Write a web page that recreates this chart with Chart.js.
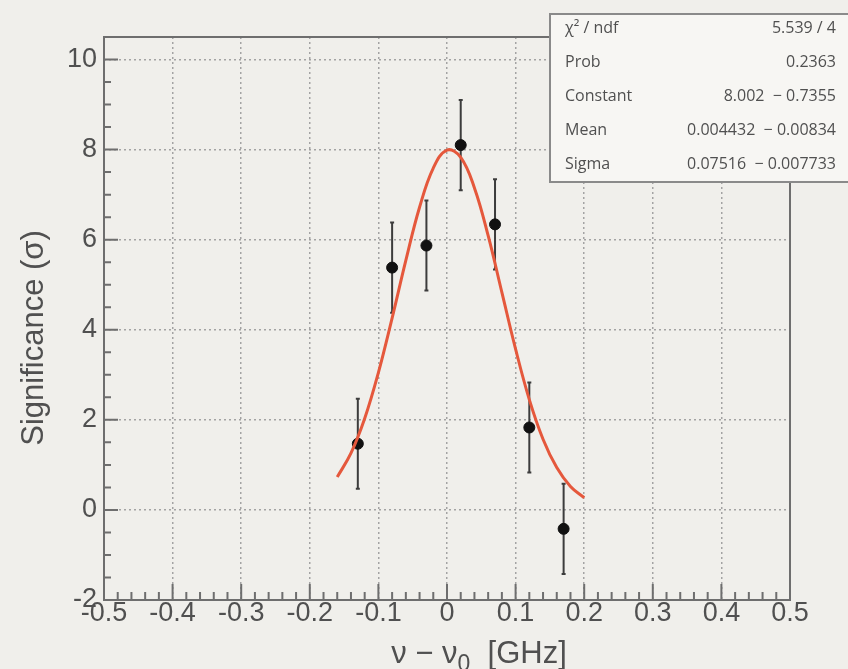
<!DOCTYPE html>
<html>
<head>
<meta charset="utf-8">
<script src="https://cdn.jsdelivr.net/npm/chart.js@4/dist/chart.umd.min.js"></script>
<style>
  html, body { margin: 0; padding: 0; background: #f0efeb; }
  canvas { display: block; }
</style>
</head>
<body>
<canvas id="c" width="848" height="669"></canvas>
<script>
// measured points (nu - nu0 in GHz) with their significance and error
const dataX = [-0.13, -0.08, -0.03, 0.02, 0.07, 0.12, 0.17];
const dataY = [1.47, 5.38, 5.87, 8.10, 6.34, 1.83, -0.42];
const dataErr = [1.0, 1.0, 1.0, 1.0, 1.0, 1.0, 1.0];

// fitted gaussian
const curveX = [-0.16, -0.14, -0.12, -0.10, -0.08, -0.06, -0.04, -0.02, 0.00, 0.02,
                0.04, 0.06, 0.08, 0.10, 0.12, 0.14, 0.16, 0.18, 0.20];
const curveY = [0.73, 1.26, 2.03, 3.05, 4.26, 5.54, 6.72, 7.59, 7.99, 7.83,
                7.15, 6.09, 4.83, 3.57, 2.45, 1.57, 0.94, 0.52, 0.27];

const xTicks = [-0.5, -0.4, -0.3, -0.2, -0.1, 0, 0.1, 0.2, 0.3, 0.4, 0.5];
const yTicks = [-2, 0, 2, 4, 6, 8, 10];

const statNames = ['χ² / ndf', 'Prob', 'Constant', 'Mean', 'Sigma'];
const statValues = ['5.539 / 4', '0.2363', '8.002  − 0.7355', '0.004432  − 0.00834', '0.07516  − 0.007733'];

const textGrey = '#505050';
const sans = '"Liberation Sans", Arial, sans-serif';

const decor = {
  id: 'decor',
  beforeDraw(chart) {
    const ctx = chart.ctx;
    ctx.save();
    ctx.fillStyle = '#f0efeb';
    ctx.fillRect(0, 0, chart.width, chart.height);
    ctx.restore();
  },
  beforeDatasetsDraw(chart) {
    const { ctx, scales: { x, y } } = chart;
    ctx.save();
    ctx.strokeStyle = '#3c3c3c';
    ctx.lineWidth = 2;
    dataX.forEach((v, i) => {
      const px = x.getPixelForValue(v);
      const top = y.getPixelForValue(dataY[i] + dataErr[i]);
      const bot = y.getPixelForValue(dataY[i] - dataErr[i]);
      ctx.beginPath();
      ctx.moveTo(px, top); ctx.lineTo(px, bot);
      ctx.moveTo(px - 2, top); ctx.lineTo(px + 2, top);
      ctx.moveTo(px - 2, bot); ctx.lineTo(px + 2, bot);
      ctx.stroke();
    });
    ctx.restore();
  },
  afterDatasetsDraw(chart) {
    const { ctx, chartArea: a, scales: { x, y } } = chart;
    ctx.save();

    // frame
    ctx.strokeStyle = '#6e6e6e';
    ctx.lineWidth = 2;
    ctx.strokeRect(a.left, a.top, a.right - a.left, a.bottom - a.top);

    // tick marks, drawn inward like ROOT
    ctx.beginPath();
    for (let i = 0; i <= 50; i++) {
      const px = x.getPixelForValue(-0.5 + i * 0.02);
      const len = i % 5 === 0 ? 16 : 8;
      ctx.moveTo(px, a.bottom); ctx.lineTo(px, a.bottom - len);
    }
    for (let i = 0; i <= 25; i++) {
      const py = y.getPixelForValue(-2 + i * 0.5);
      if (py < a.top) continue;
      const len = i % 4 === 0 ? 14 : 7;
      ctx.moveTo(a.left, py); ctx.lineTo(a.left + len, py);
    }
    ctx.stroke();

    // axis titles
    ctx.fillStyle = textGrey;
    ctx.save();
    ctx.translate(34, 338);
    ctx.rotate(-Math.PI / 2);
    ctx.font = '31px ' + sans;
    ctx.textAlign = 'center';
    ctx.textBaseline = 'middle';
    ctx.fillText('Significance (σ)', 0, 0);
    ctx.restore();

    const mainFont = '31px ' + sans;
    const subFont = '23px ' + sans;
    const p1 = 'ν − ν', p2 = '0', p3 = '  [GHz]';
    ctx.font = mainFont; const w1 = ctx.measureText(p1).width, w3 = ctx.measureText(p3).width;
    ctx.font = subFont; const w2 = ctx.measureText(p2).width;
    let tx = 479 - (w1 + w2 + w3) / 2;
    ctx.textAlign = 'left';
    ctx.textBaseline = 'alphabetic';
    ctx.font = mainFont; ctx.fillText(p1, tx, 663); tx += w1;
    ctx.font = subFont; ctx.fillText(p2, tx, 671); tx += w2;
    ctx.font = mainFont; ctx.fillText(p3, tx, 663);

    // stats box
    ctx.fillStyle = '#f7f6f3';
    ctx.fillRect(550, 14, 320, 168);
    ctx.strokeStyle = '#8a8a8a';
    ctx.lineWidth = 2;
    ctx.strokeRect(550, 14, 320, 168);
    ctx.fillStyle = textGrey;
    ctx.font = '16px "Open Sans", sans-serif';
    ctx.textBaseline = 'middle';
    statNames.forEach((name, i) => {
      const ry = 28 + i * 34;
      ctx.textAlign = 'left';
      ctx.fillText(name, 565, ry);
      ctx.textAlign = 'right';
      ctx.fillText(statValues[i], 836, ry);
    });
    ctx.restore();
  }
};

new Chart(document.getElementById('c'), {
  type: 'scatter',
  data: {
    datasets: [
      {
        type: 'line',
        data: curveX.map((v, i) => ({ x: v, y: curveY[i] })),
        borderColor: '#e5583c',
        borderWidth: 3,
        pointRadius: 0,
        tension: 0.4,
        fill: false
      },
      {
        data: dataX.map((v, i) => ({ x: v, y: dataY[i] })),
        backgroundColor: '#111111',
        borderColor: '#111111',
        pointRadius: 5.5,
        pointHoverRadius: 5.5
      }
    ]
  },
  options: {
    responsive: false,
    animation: false,
    events: [],
    layout: { padding: { top: 37, right: 58, left: 0, bottom: 0 } },
    plugins: { legend: { display: false }, tooltip: { enabled: false } },
    scales: {
      x: {
        type: 'linear',
        min: -0.5,
        max: 0.5,
        afterBuildTicks: s => { s.ticks = xTicks.map(v => ({ value: v })); },
        afterFit: s => { s.height = 69; },
        grid: { color: '#a3a3a3', lineWidth: 1.5, drawTicks: false },
        border: { display: false, dash: [2, 3] },
        ticks: {
          autoSkip: false,
          maxRotation: 0,
          padding: 0,
          color: textGrey,
          font: { family: sans, size: 27, lineHeight: 1 },
          callback: v => String(v)
        }
      },
      y: {
        type: 'linear',
        min: -2,
        max: 10.5,
        afterBuildTicks: s => { s.ticks = yTicks.map(v => ({ value: v })); },
        afterFit: s => { s.width = 104; },
        grid: { color: '#a3a3a3', lineWidth: 1.5, drawTicks: false },
        border: { display: false, dash: [2, 3] },
        ticks: {
          padding: 7,
          color: textGrey,
          font: { family: sans, size: 27, lineHeight: 1 },
          callback: v => String(v)
        }
      }
    }
  },
  plugins: [decor]
});
</script>
</body>
</html>
